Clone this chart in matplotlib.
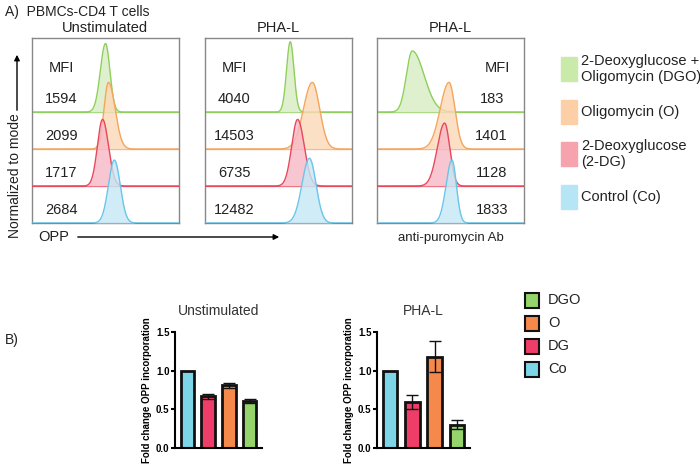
import numpy as np
import matplotlib
matplotlib.use("Agg")
import matplotlib.pyplot as plt
from matplotlib.patches import Rectangle

W, H = 700, 468
fig = plt.figure(figsize=(7, 4.68), dpi=100)
plt.rcParams['font.family'] = ['Liberation Sans', 'DejaVu Sans']

def fx(px): return px / W
def fy(py): return 1 - py / H

# histogram data: order green(DGO), orange(O), red(2-DG), blue(Co)
panel_titles = ["Unstimulated", "PHA-L", "PHA-L"]
mfi = [[1594, 2099, 1717, 2684], [4040, 14503, 6735, 12482], [183, 1401, 1128, 1833]]
centers = [[0.50, 0.52, 0.48, 0.56], [0.58, 0.73, 0.63, 0.71], [0.24, 0.49, 0.46, 0.51]]
sig_left = [[0.035, 0.03, 0.035, 0.04], [0.025, 0.06, 0.04, 0.05], [0.04, 0.06, 0.05, 0.04]]
sig_right = [[0.03, 0.045, 0.04, 0.04], [0.025, 0.05, 0.045, 0.045], [0.08, 0.04, 0.035, 0.03]]
heights = [[1.85, 1.8, 1.8, 1.7], [1.9, 1.8, 1.8, 1.75], [1.65, 1.8, 1.7, 1.7]]
line_cols = ["#8fcf5c", "#f5a55c", "#e8475c", "#6cc5e8"]
fill_cols = ["#d6edc2", "#fcd9b8", "#f7b8c5", "#c4e8f6"]
baselines = [3, 2, 1, 0]

panel_left = [32, 205, 377]
for p in range(3):
    ax = fig.add_axes([fx(panel_left[p]), fy(223), 147 / W, 185 / H])
    ax.set_xlim(0, 1); ax.set_ylim(0, 5)
    ax.set_xticks([]); ax.set_yticks([])
    for s in ax.spines.values():
        s.set_color("#888888"); s.set_linewidth(1)
    x = np.linspace(0, 1, 600)
    for i in range(4):
        c = centers[p][i]
        sg = np.where(x < c, sig_left[p][i], sig_right[p][i])
        y = heights[p][i] * np.exp(-0.5 * ((x - c) / sg) ** 2)
        b = baselines[i]
        ax.axhline(b, color=line_cols[i], lw=0.9, zorder=1 + i)
        ax.fill_between(x, b, b + y, color=fill_cols[i], alpha=0.8, lw=0, zorder=1 + i)
        ax.plot(x, b + y, color=line_cols[i], lw=1, zorder=1 + i)
        tx = 0.2 if p < 2 else 0.78
        ax.text(tx, b + 0.35, str(mfi[p][i]), fontsize=10.5, ha='center', va='center', color="#222222", zorder=10)
    ax.text(0.2 if p < 2 else 0.82, 4.2, "MFI", fontsize=10.5, ha='center', va='center', color="#222222")
    fig.text(fx(panel_left[p] + 73), fy(28), panel_titles[p], fontsize=10.5, ha='center', va='center', color="#222222")

fig.text(fx(5), fy(12), "A)  PBMCs-CD4 T cells", fontsize=10, va='center', color="#222222")
fig.text(fx(15), fy(176), "Normalized to mode", rotation=90, fontsize=10, ha='center', va='center', color="#222222")
fig.add_artist(matplotlib.patches.FancyArrowPatch((fx(17), fy(113)), (fx(17), fy(52)), transform=fig.transFigure,
               arrowstyle='-|>', mutation_scale=8, color='black', lw=1))
fig.text(fx(38), fy(237), "OPP", fontsize=10.5, va='center', color="#222222")
fig.add_artist(matplotlib.patches.FancyArrowPatch((fx(75), fy(237)), (fx(282), fy(237)), transform=fig.transFigure,
               arrowstyle='-|>', mutation_scale=8, color='black', lw=1))
fig.text(fx(451), fy(238), "anti-puromycin Ab", fontsize=9.5, ha='center', va='center', color="#222222")

# top legend
leg_labels = ["2-Deoxyglucose +\nOligomycin (DGO)", "Oligomycin (O)", "2-Deoxyglucose\n(2-DG)", "Control (Co)"]
leg_fill = ["#c9eaa8", "#fccfa6", "#f6a3ad", "#b6e6f6"]
leg_y = [57, 100, 142, 185]
for lab, col, yy in zip(leg_labels, leg_fill, leg_y):
    fig.patches.append(Rectangle((fx(561), fy(yy + 24)), 16 / W, 24 / H, transform=fig.transFigure, color=col))
    fig.text(fx(581), fy(yy + 12), lab, fontsize=10.5, va='center', color="#222222", linespacing=1.1)

# bar charts
bar_labels = ["Co", "DG", "O", "DGO"]
bar_cols = ["#7dd5e8", "#ef3d69", "#f5894b", "#94d46b"]
unstim_vals = [1.0, 0.67, 0.81, 0.61]
unstim_err = [0.0, 0.03, 0.03, 0.03]
pha_vals = [1.0, 0.60, 1.18, 0.30]
pha_err = [0.0, 0.09, 0.20, 0.06]

for (l, r), vals, errs, title in [((175, 262), unstim_vals, unstim_err, "Unstimulated"),
                                   ((377, 470), pha_vals, pha_err, "PHA-L")]:
    ax = fig.add_axes([fx(l), fy(448), (r - l) / W, 116 / H])
    xs = np.arange(4)
    ax.bar(xs, vals, width=0.65, color=bar_cols, edgecolor='#111111', linewidth=2)
    for xi, v, e in zip(xs, vals, errs):
        if e > 0:
            ax.errorbar(xi, v, yerr=e, color='#111111', capsize=4, lw=1)
    ax.set_xlim(-0.6, 3.6); ax.set_ylim(0, 1.5)
    ax.set_yticks([0, 0.5, 1.0, 1.5])
    ax.set_yticklabels(["0.0", "0.5", "1.0", "1.5"], fontsize=7, fontweight='bold')
    ax.set_xticks([])
    for s in ['top', 'right']:
        ax.spines[s].set_visible(False)
    ax.spines['left'].set_linewidth(1.5); ax.spines['bottom'].set_linewidth(1.5)
    ax.tick_params(axis='y', width=1.5, length=3, pad=1)
    ax.set_ylabel("Fold change OPP incorporation", fontsize=7, fontweight='bold', labelpad=3)
    ax.set_title(title, fontsize=10, color="#333333", pad=12)

fig.text(fx(5), fy(340), "B)", fontsize=10, va='center', color="#222222")
leg2_labels = ["DGO", "O", "DG", "Co"]
leg2_cols = ["#94d46b", "#f5894b", "#ef3d69", "#7dd5e8"]
for i, (lab, col) in enumerate(zip(leg2_labels, leg2_cols)):
    yy = 300 + i * 23
    fig.patches.append(Rectangle((fx(525), fy(yy + 8)), 14 / W, 15 / H, transform=fig.transFigure,
                                 facecolor=col, edgecolor='#111111', lw=1.5))
    fig.text(fx(548), fy(yy), lab, fontsize=10.5, va='center', color="#222222")

fig.savefig("out.png", dpi=100)
